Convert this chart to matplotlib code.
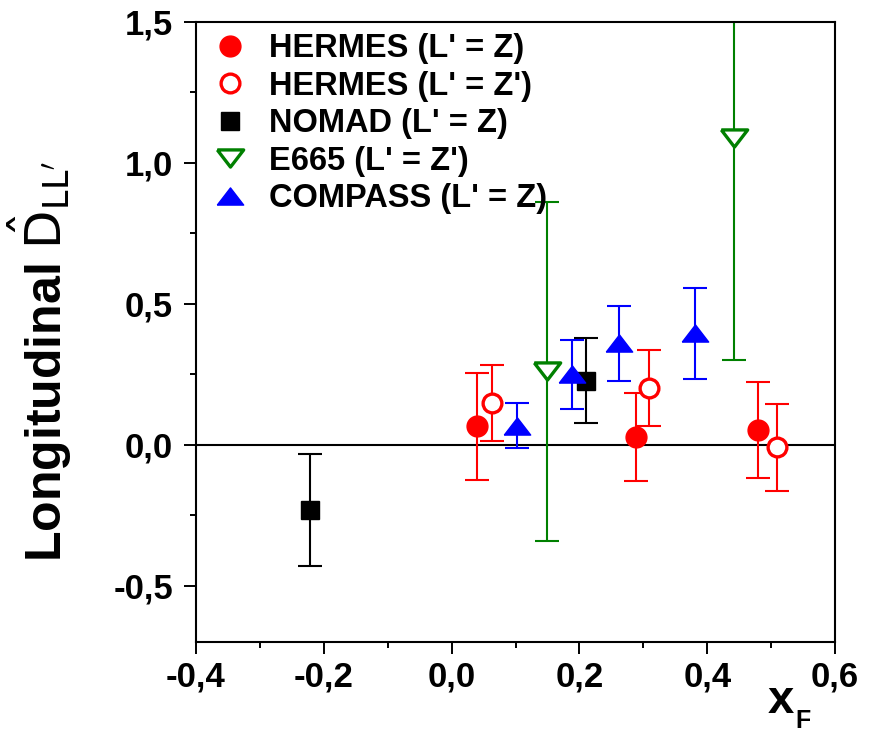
import matplotlib
matplotlib.use('Agg')
import matplotlib.pyplot as plt
from matplotlib.ticker import MultipleLocator, FuncFormatter

plt.rcParams['font.family'] = ['Liberation Sans', 'DejaVu Sans']
plt.rcParams['mathtext.fontset'] = 'custom'
plt.rcParams['mathtext.rm'] = 'Liberation Sans'
plt.rcParams['mathtext.it'] = 'Liberation Sans:italic'
plt.rcParams['mathtext.bf'] = 'Liberation Sans:bold'

# data
hermes_z_x = [0.040, 0.288, 0.480]
hermes_z_y = [0.066, 0.027, 0.052]
hermes_z_err = [0.19, 0.157, 0.17]

hermes_zp_x = [0.064, 0.309, 0.510]
hermes_zp_y = [0.148, 0.202, -0.009]
hermes_zp_err = [0.136, 0.135, 0.154]

nomad_x = [-0.221, 0.210]
nomad_y = [-0.232, 0.227]
nomad_err = [0.20, 0.15]

e665_x = [0.149, 0.442]
e665_y = [0.26, 1.09]
e665_err = [0.60, 0.79]

compass_x = [0.103, 0.189, 0.2625, 0.381]
compass_y = [0.068, 0.25, 0.36, 0.395]
compass_err = [0.08, 0.122, 0.133, 0.162]

# flattened triangles (closed paths)
tri_up = [(-1, -0.65), (1, -0.65), (0, 0.65), (-1, -0.65)]
tri_down = [(-1, 0.65), (1, 0.65), (0, -0.65), (-1, 0.65)]

fig = plt.figure(figsize=(8.78, 7.35), dpi=100)
ax = fig.add_axes([196/878, 1 - 642/735, (835-196)/878, (642-22)/735])

ax.axhline(0, color='black', lw=1.5, zorder=1)

eb = dict(fmt='none', capsize=8.5, elinewidth=1.5, capthick=1.5, zorder=2)
ax.errorbar(e665_x, e665_y, yerr=e665_err, ecolor='green', **eb)
ax.errorbar(hermes_z_x, hermes_z_y, yerr=hermes_z_err, ecolor='red', **eb)
ax.errorbar(hermes_zp_x, hermes_zp_y, yerr=hermes_zp_err, ecolor='red', **eb)
ax.errorbar(nomad_x, nomad_y, yerr=nomad_err, ecolor='black', **eb)
ax.errorbar(compass_x, compass_y, yerr=compass_err, ecolor='blue', **eb)

ax.plot(hermes_z_x, hermes_z_y, 'o', color='red', ms=15, ls='none',
        label="HERMES (L' = Z)", zorder=3)
ax.plot(hermes_zp_x, hermes_zp_y, 'o', mfc='white', mec='red', mew=2.4, ms=13.5, ls='none',
        label="HERMES (L' = Z')", zorder=3)
ax.plot(nomad_x, nomad_y, 's', color='black', ms=12.5, ls='none',
        label="NOMAD (L' = Z)", zorder=3)
ax.plot(e665_x, e665_y, marker=tri_down, mfc='white', mec='green', mew=2.4, ms=19, ls='none',
        label="E665 (L' = Z')", zorder=3)
ax.plot(compass_x, compass_y, marker=tri_up, color='blue', ms=19, ls='none',
        label="COMPASS (L' = Z)", zorder=3)

ax.set_xlim(-0.4, 0.6)
ax.set_ylim(-0.7, 1.5)
ax.xaxis.set_major_locator(MultipleLocator(0.2))
ax.xaxis.set_minor_locator(MultipleLocator(0.1))
ax.yaxis.set_major_locator(MultipleLocator(0.5))
ax.yaxis.set_minor_locator(MultipleLocator(0.25))
comma = FuncFormatter(lambda v, p: ('%.1f' % v).replace('.', ',').replace('-0,0', '0,0'))
ax.xaxis.set_major_formatter(comma)
ax.yaxis.set_major_formatter(comma)
ax.tick_params(which='both', direction='out', top=False, right=False, width=1.4)
ax.tick_params(which='major', length=8.5, labelsize=25)
ax.tick_params(which='minor', length=4.5)
ax.tick_params(axis='y', which='major', pad=8)
ax.tick_params(axis='x', which='major', pad=5)
for lab in ax.get_xticklabels() + ax.get_yticklabels():
    lab.set_fontweight('bold')
for s in ax.spines.values():
    s.set_linewidth(1.5)

ax.text(-0.2097, 0.129, r"Longitudinal $\hat{\mathrm{D}}_{\mathrm{LL'}}$", transform=ax.transAxes,
        fontsize=36, fontweight='bold', rotation=90, rotation_mode='anchor',
        ha='left', va='baseline', math_fontfamily='dejavusans')

ax.text((781-196)/639, (642-701)/620, 'x', transform=ax.transAxes,
        fontsize=34, fontweight='bold', ha='center', va='center')
ax.text((803-196)/639, (642-721)/620, 'F', transform=ax.transAxes,
        fontsize=18, fontweight='bold', ha='center', va='center')

ax.legend(loc='upper left', bbox_to_anchor=(0.033, 0.982), frameon=False,
          prop={'size': 23.5, 'weight': 'bold'}, handlelength=0.8, handletextpad=0.8,
          borderpad=0, borderaxespad=0, labelspacing=0.2)

fig.savefig('out.png', dpi=100)
